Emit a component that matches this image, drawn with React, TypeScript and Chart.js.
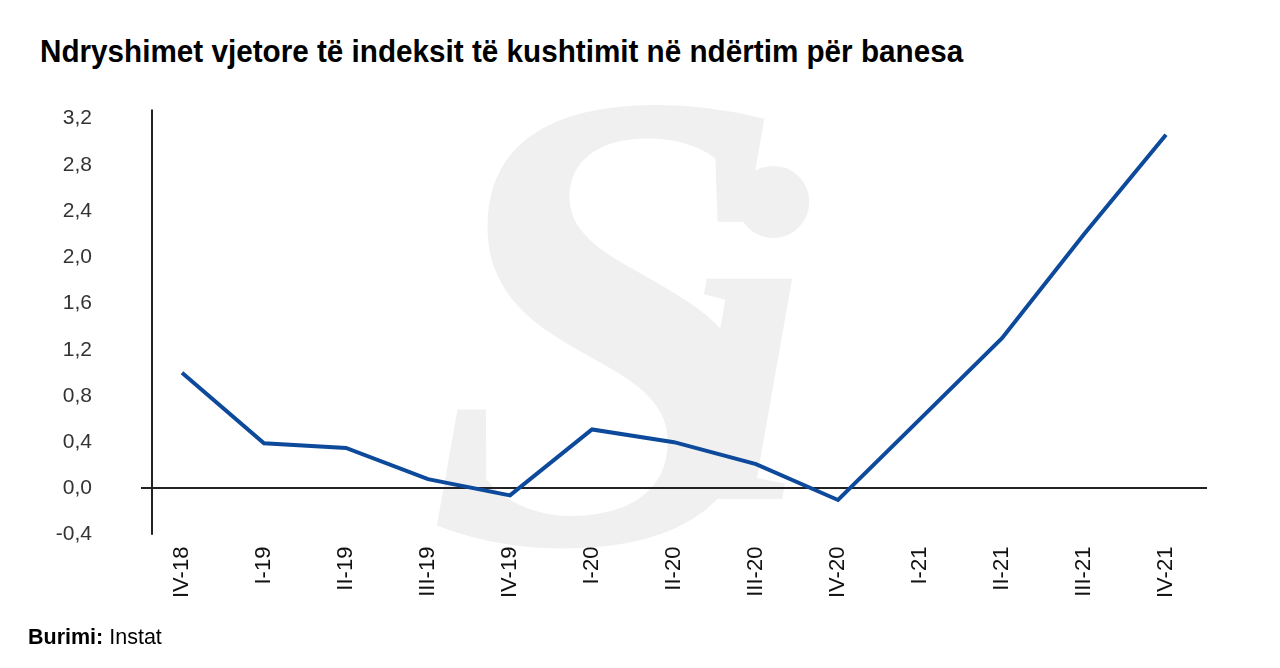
import React, { useEffect, useRef } from "react";
import { Chart, registerables } from "chart.js";
Chart.register(...registerables);

const categories = ["IV-18", "I-19", "II-19", "III-19", "IV-19", "I-20", "II-20", "III-20", "IV-20", "I-21", "II-21", "III-21", "IV-21"];
const values = [1.0, 0.39, 0.35, 0.08, -0.06, 0.51, 0.4, 0.21, -0.1, 0.6, 1.3, 2.2, 3.06];
const yMin = -0.4;
const yMax = 3.2;
const yStep = 0.4;

const titleText = "Ndryshimet vjetore të indeksit të kushtimit në ndërtim për banesa";
const sourceLabel = "Burimi:";
const sourceText = "Instat";

const yAxisLine = {
  id: "yAxisLine",
  afterDraw(chart: any) {
    const { ctx, chartArea } = chart;
    const xs = chart.scales.x;
    const x = xs.getPixelForValue(0) - 30;
    ctx.save();
    ctx.strokeStyle = "#222";
    ctx.lineWidth = 2;
    ctx.beginPath();
    ctx.moveTo(x, chartArea.top - 9);
    ctx.lineTo(x, chartArea.bottom);
    ctx.stroke();
    ctx.restore();
  },
};

export default function App() {
  const ref = useRef<HTMLCanvasElement | null>(null);
  useEffect(() => {
    if (!ref.current) return;
    const chart = new Chart(ref.current, {
      type: "line",
      data: {
        labels: categories,
        datasets: [
          {
            data: values,
            borderColor: "#0d4a9b",
            borderWidth: 4,
            pointRadius: 0,
            tension: 0,
            fill: false,
          },
        ],
      },
      options: {
        animation: false,
        responsive: true,
        maintainAspectRatio: false,
        layout: { padding: { left: 0, right: 33, top: 0, bottom: 26 } },
        plugins: { legend: { display: false }, tooltip: { enabled: false } },
        scales: {
          x: {
            type: "category",
            offset: true,
            grid: { display: false, drawTicks: false },
            border: { display: false },
            ticks: {
              minRotation: 90,
              maxRotation: 90,
              padding: 12,
              color: "#111",
              font: { family: "Liberation Sans, Arial, sans-serif", size: 22 },
            },
          },
          y: {
            min: yMin,
            max: yMax,
            afterFit(scale: any) {
              scale.width = 141;
            },
            grid: {
              drawTicks: false,
              color: (c: any) => (c.tick && c.tick.value === 0 ? "#222" : "rgba(0,0,0,0)"),
              lineWidth: 2,
            },
            border: { display: false },
            ticks: {
              stepSize: yStep,
              padding: 49,
              color: "#333",
              font: { family: "Liberation Sans, Arial, sans-serif", size: 21 },
              callback: (v: any) => Number(v).toFixed(1).replace(".", ","),
            },
          },
        },
      },
      plugins: [yAxisLine],
    });
    return () => chart.destroy();
  }, []);

  return (
    <div style={{ position: "absolute", left: 0, top: 0, width: 1280, height: 668, overflow: "hidden", background: "#fff" }}>
      <div
        style={{
          position: "absolute",
          left: 425,
          top: -10,
          fontFamily: "Liberation Serif, serif",
          fontStyle: "italic",
          fontWeight: "bold",
          fontSize: 660,
          lineHeight: "660px",
          color: "#f0f0f0",
          userSelect: "none",
        }}
      >
        S
      </div>
      <div
        style={{
          position: "absolute",
          left: 678,
          top: 97,
          fontFamily: "Liberation Serif, serif",
          fontStyle: "italic",
          fontWeight: "bold",
          fontSize: 480,
          lineHeight: "480px",
          color: "#f0f0f0",
          userSelect: "none",
        }}
      >
        i
      </div>
      <div
        style={{
          position: "absolute",
          left: 40,
          top: 32,
          fontFamily: "Liberation Sans, Arial, sans-serif",
          fontWeight: "bold",
          fontSize: 32,
          lineHeight: "38px",
          color: "#000",
          whiteSpace: "nowrap",
          transform: "scaleX(0.927)",
          transformOrigin: "left center",
        }}
      >
        {titleText}
      </div>
      <div style={{ position: "absolute", left: 0, top: 57, width: 1240, height: 579 }}>
        <canvas ref={ref} />
      </div>
      <div
        style={{
          position: "absolute",
          left: 28,
          top: 625,
          fontFamily: "Liberation Sans, Arial, sans-serif",
          fontSize: 21.5,
          lineHeight: "24px",
          color: "#000",
          whiteSpace: "nowrap",
        }}
      >
        <b>{sourceLabel}</b> {sourceText}
      </div>
    </div>
  );
}
